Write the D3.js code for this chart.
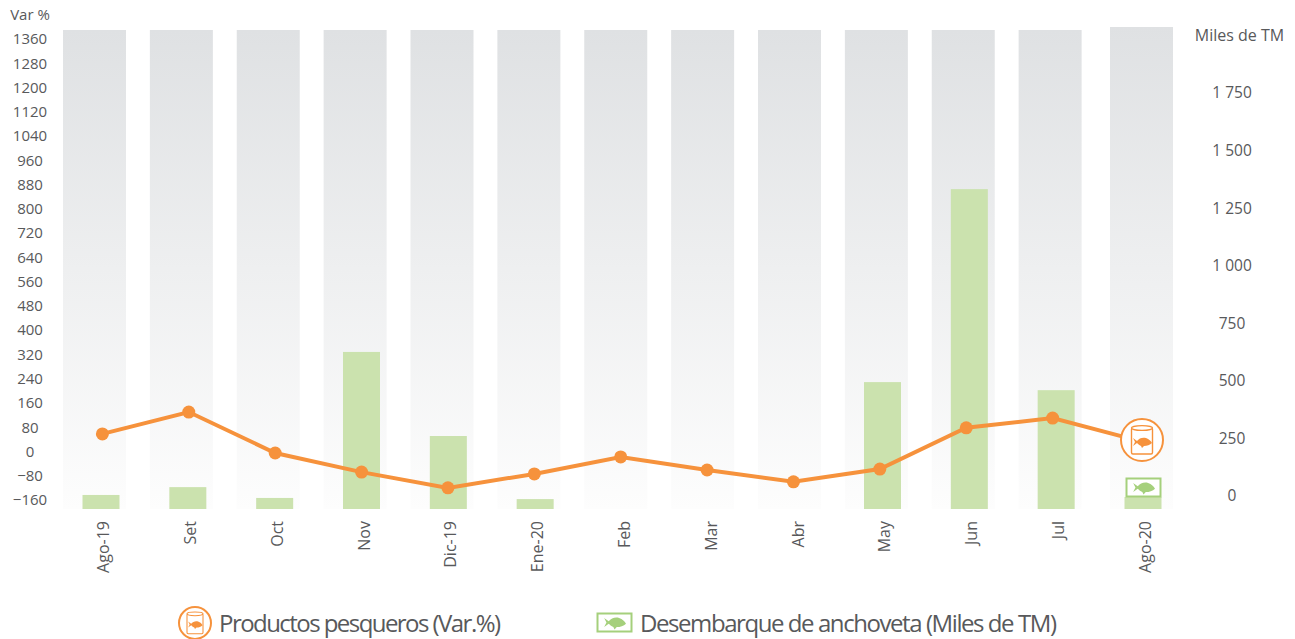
<!DOCTYPE html>
<html>
<head>
<meta charset="utf-8">
<script src="https://cdnjs.cloudflare.com/ajax/libs/d3/7.8.5/d3.min.js"></script>
<style>
  html, body { margin: 0; padding: 0; background: #fff; }
  svg { display: block; }
  text { font-family: "Open Sans", sans-serif; fill: #58595b; }
</style>
</head>
<body>
<div id="chart"></div>
<script>
var months = ['Ago-19', 'Set', 'Oct', 'Nov', 'Dic-19', 'Ene-20', 'Feb', 'Mar', 'Abr', 'May', 'Jun', 'Jul', 'Ago-20'];
var productos = [58, 130, -5, -68, -120, -74, -18, -61, -100, -58, 78, 110, 35];
var anchoveta = [61, 95, 48, 682, 317, 43, 0, 0, 0, 551, 1389, 516, 52];
var varTicks = [1360, 1280, 1200, 1120, 1040, 960, 880, 800, 720, 640, 560, 480, 400, 320, 240, 160, 80, 0, -80, -160];
var tmTicks = [1750, 1500, 1250, 1000, 750, 500, 250, 0];

var width = 1295;
var height = 639;
var orange = '#f6923c';
var green = '#cbe2ae';
var greenDark = '#a5d07c';

var svg = d3.select('#chart').append('svg')
    .attr('width', width)
    .attr('height', height);

var grad = svg.append('defs').append('linearGradient')
    .attr('id', 'col')
    .attr('x1', 0).attr('x2', 0).attr('y1', 0).attr('y2', 1);
grad.append('stop').attr('offset', '0%').attr('stop-color', '#dfe1e3');
grad.append('stop').attr('offset', '100%').attr('stop-color', '#fdfdfd');

var idx = d3.range(months.length);

// each layer of the original sits slightly differently along x
var xCol = d3.scalePoint().domain(idx).range([94.5, 1137]);
var xBar = d3.scalePoint().domain(idx).range([101, 1143]);
var xLine = d3.scalePoint().domain(idx).range([102.4, 1139]);
var xLabel = d3.scalePoint().domain(months).range([104, 1145.5]);

var yVar = d3.scaleLinear().domain([-160, 1360]).range([500, 39]);
var yTm = d3.scaleLinear().domain([0, 1750]).range([509, 106]);

// background columns
svg.append('g').selectAll('rect')
  .data(idx)
  .enter().append('rect')
    .attr('x', d => xCol(d) - 31.5 + (d == 12 ? 4.5 : 0))
    .attr('y', d => d == 12 ? 27 : 30)
    .attr('width', 63)
    .attr('height', d => d == 12 ? 482 : 479)
    .attr('fill', 'url(#col)');

// anchoveta bars
svg.append('g').selectAll('rect')
  .data(anchoveta)
  .enter().append('rect')
    .attr('x', (d, i) => xBar(i) - 18.5)
    .attr('y', d => yTm(d))
    .attr('width', 37)
    .attr('height', d => yTm(0) - yTm(d))
    .attr('fill', green);

// left axis
var axisL = svg.append('g')
    .attr('transform', 'translate(30,0)')
    .call(d3.axisLeft(yVar).tickValues(varTicks).tickSize(0).tickPadding(0).tickFormat(d3.format('d')));
axisL.select('.domain').remove();
axisL.selectAll('text')
    .attr('x', 0)
    .attr('text-anchor', 'middle')
    .style('font-family', '"Open Sans", sans-serif')
    .style('font-size', '15px');

// right axis: labels stand 13px above the bars' zero in the original
var axisR = svg.append('g')
    .attr('transform', 'translate(1232,-13)')
    .call(d3.axisRight(yTm).tickValues(tmTicks).tickSize(0).tickPadding(0)
      .tickFormat(d => d3.format(',')(d).replace(',', ' ')));
axisR.select('.domain').remove();
axisR.selectAll('text')
    .attr('x', 0)
    .attr('text-anchor', 'middle')
    .style('font-family', '"Open Sans", sans-serif')
    .style('font-size', '15.5px');

// month labels
var axisB = svg.append('g')
    .attr('transform', 'translate(0,521)')
    .call(d3.axisBottom(xLabel).tickSize(0).tickPadding(0));
axisB.select('.domain').remove();
axisB.selectAll('text')
    .attr('x', 0)
    .attr('y', 0)
    .attr('dy', '0.3em')
    .attr('text-anchor', 'end')
    .attr('transform', 'rotate(-90)')
    .style('font-family', '"Open Sans", sans-serif')
    .style('font-size', '16px');

svg.append('text').attr('x', 30).attr('y', 20).attr('text-anchor', 'middle')
    .style('font-size', '15px').text('Var %');
svg.append('text').attr('x', 1239.5).attr('y', 41).attr('text-anchor', 'middle')
    .style('font-size', '16px').text('Miles de TM');

// productos line, last point is hidden under the can icon
var line = d3.line().x((d, i) => xLine(i)).y(d => yVar(d));
svg.append('path')
    .datum(productos)
    .attr('d', line)
    .attr('fill', 'none')
    .attr('stroke', orange)
    .attr('stroke-width', 4);

svg.append('g').selectAll('circle')
  .data(productos.slice(0, -1))
  .enter().append('circle')
    .attr('cx', (d, i) => xLine(i))
    .attr('cy', d => yVar(d))
    .attr('r', 6.5)
    .attr('fill', orange);

var fishPath = 'M-9,-4 L-5,-1 C-3,-4 1,-5 4,-4 C7,-3 9,-1 10,1 C8,3 5,4 2,4 L0,6 L-1,4 C-3,3 -4,2 -5,1 L-9,4 L-7,0 Z';

function canIcon(cx, cy, r, sw) {
  var g = svg.append('g').attr('transform', 'translate(' + cx + ',' + cy + ')');
  var k = r / 21;
  g.append('circle').attr('r', r).attr('fill', '#fff').attr('stroke', orange).attr('stroke-width', sw);
  var c = g.append('g').attr('transform', 'scale(' + k + ')');
  c.append('rect').attr('x', -10.5).attr('y', -12).attr('width', 21).attr('height', 26).attr('rx', 1.5)
      .attr('fill', 'none').attr('stroke', orange).attr('stroke-width', 1.4);
  c.append('ellipse').attr('cx', 0).attr('cy', -12).attr('rx', 10.5).attr('ry', 2.4)
      .attr('fill', '#fff').attr('stroke', orange).attr('stroke-width', 1.4);
  c.append('path').attr('d', fishPath).attr('transform', 'translate(0,2)').attr('fill', orange);
}

function fishIcon(cx, cy, w, h) {
  var g = svg.append('g').attr('transform', 'translate(' + cx + ',' + cy + ')');
  g.append('rect').attr('x', -w / 2).attr('y', -h / 2).attr('width', w).attr('height', h)
      .attr('fill', '#fff').attr('stroke', greenDark).attr('stroke-width', 2);
  g.append('path').attr('d', fishPath).attr('transform', 'scale(1.15)').attr('fill', greenDark);
}

canIcon(1142, 440, 21, 2);
fishIcon(1143.5, 487.5, 34, 18);

// legend
canIcon(195, 623, 16, 2);
svg.append('text').attr('x', 219).attr('y', 632)
    .attr('textLength', 282).attr('lengthAdjust', 'spacing')
    .style('font-size', '24px').text('Productos pesqueros (Var.%)');
fishIcon(614.5, 622.5, 34, 18);
svg.append('text').attr('x', 640).attr('y', 632)
    .attr('textLength', 417).attr('lengthAdjust', 'spacing')
    .style('font-size', '24px').text('Desembarque de anchoveta (Miles de TM)');
</script>
</body>
</html>
